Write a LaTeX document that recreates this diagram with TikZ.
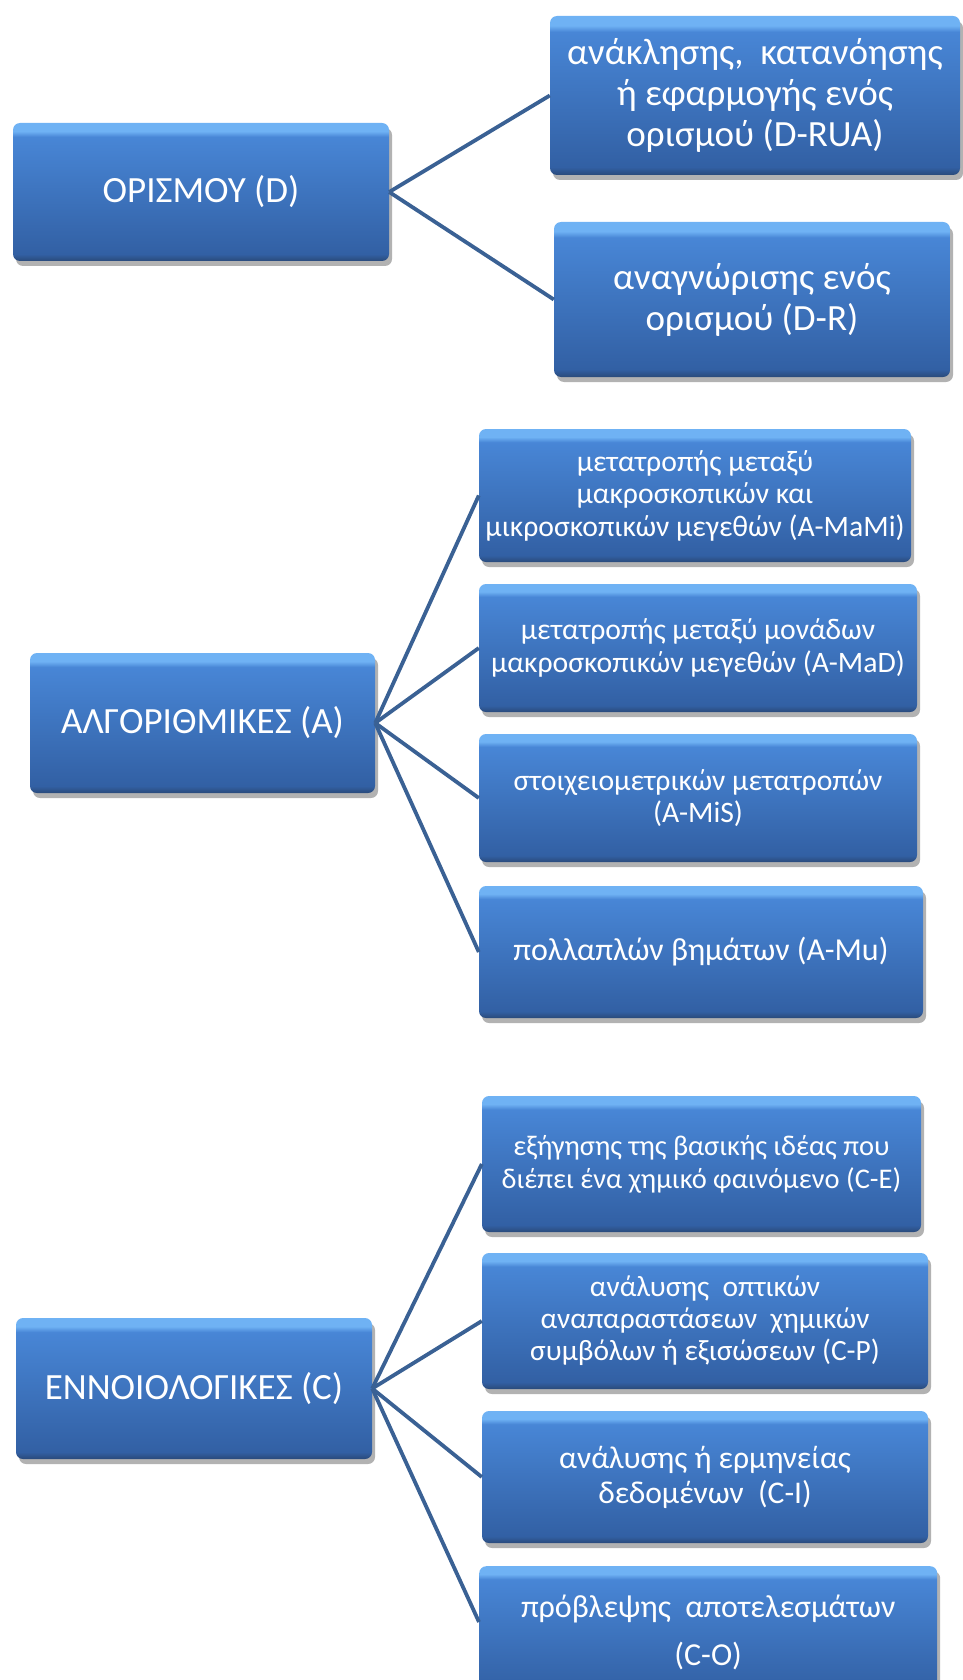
\documentclass[tikz,border=0pt]{standalone}
\usepackage{fontspec}
\setmainfont{Carlito}
\usetikzlibrary{shadows}
\definecolor{blight}{HTML}{6FB2F4}
\definecolor{btop}{HTML}{4886D6}
\definecolor{bbot}{HTML}{3260A4}
\definecolor{bdark}{HTML}{2A4A7A}
\definecolor{linkc}{HTML}{3A6194}
\pgfdeclareverticalshading{boxshade}{100bp}{color(0bp)=(bdark); color(25bp)=(bdark); color(27.5bp)=(bbot); color(70bp)=(btop); color(72bp)=(blight); color(75bp)=(blight); color(100bp)=(blight)}
\begin{document}
\begin{tikzpicture}[x=1pt,y=-1pt,
  box/.style={shading=boxshade, rounded corners=7pt, text=white, align=center, inner sep=2pt,
    drop shadow={shadow xshift=3pt, shadow yshift=-5pt, opacity=0.3, fill=black}},
  bigf/.style={font=\fontsize{37}{41}\selectfont},
  midf/.style={font=\fontsize{29.7}{32.5}\selectfont},
  link/.style={draw=linkc, line width=3.8pt}]
\useasboundingbox (0,0) rectangle (962,1680);

% group D
\node[box, bigf, minimum width=376pt, minimum height=138pt] (d) at (201,192) {ΟΡΙΣΜΟΥ (D)};
\node[box, bigf, minimum width=410pt, minimum height=159pt] (drua) at (755,95.5) {ανάκλησης,\ \ κατανόησης\\ή εφαρμογής ενός\\ορισμού (D-RUA)};
\node[box, bigf, minimum width=396pt, minimum height=155pt] (dr) at (752,299.5) {αναγνώρισης ενός\\ορισμού (D-R)};

% group A
\node[box, bigf, minimum width=345pt, minimum height=140pt] (a) at (202.5,723) {ΑΛΓΟΡΙΘΜΙΚΕΣ (Α)};
\node[box, midf, minimum width=432pt, minimum height=133pt] (amami) at (695,495.5) {μετατροπής μεταξύ\\μακροσκοπικών και\\μικροσκοπικών μεγεθών (A-MaMi)};
\node[box, midf, minimum width=438pt, minimum height=128pt] (amad) at (698,648) {μετατροπής μεταξύ μονάδων\\μακροσκοπικών μεγεθών (A-MaD)};
\node[box, midf, minimum width=438pt, minimum height=128pt] (amis) at (698,798) {στοιχειομετρικών μετατροπών\\(A-MiS)};
\node[box, font=\fontsize{32}{38}\selectfont, minimum width=444pt, minimum height=132pt] (amu) at (701,952) {πολλαπλών βημάτων (A-Mu)};

% group C
\node[box, bigf, minimum width=356pt, minimum height=141pt] (c) at (194,1388.5) {ΕΝΝΟΙΟΛΟΓΙΚΕΣ (C)};
\node[box, font=\fontsize{28.5}{33}\selectfont, minimum width=439pt, minimum height=136pt] (ce) at (701.5,1164) {εξήγησης της βασικής ιδέας που\\διέπει ένα χημικό φαινόμενο (C-E)};
\node[box, font=\fontsize{29.4}{32}\selectfont, minimum width=446pt, minimum height=136pt] (cp) at (705,1321) {ανάλυσης\ \ οπτικών\\αναπαραστάσεων\ \ χημικών\\συμβόλων ή εξισώσεων (C-P)};
\node[box, font=\fontsize{31.6}{35}\selectfont, minimum width=446pt, minimum height=132pt] (ci) at (705,1477) {ανάλυσης ή ερμηνείας\\δεδομένων\ \ (C-I)};
\node[box, font=\fontsize{32}{48}\selectfont, minimum width=458pt, minimum height=132pt, anchor=north west] (co) at (479,1566) {πρόβλεψης\ \ αποτελεσμάτων\\(C-O)};

% connectors
\draw[link] (d.east) -- (drua.west);
\draw[link] (d.east) -- (dr.west);
\foreach \t in {amami,amad,amis,amu} \draw[link] (a.east) -- (\t.west);
\foreach \t in {ce,cp,ci} \draw[link] (c.east) -- (\t.west);
\draw[link] (c.east) -- ([yshift=-56pt]co.north west);
\end{tikzpicture}
\end{document}
